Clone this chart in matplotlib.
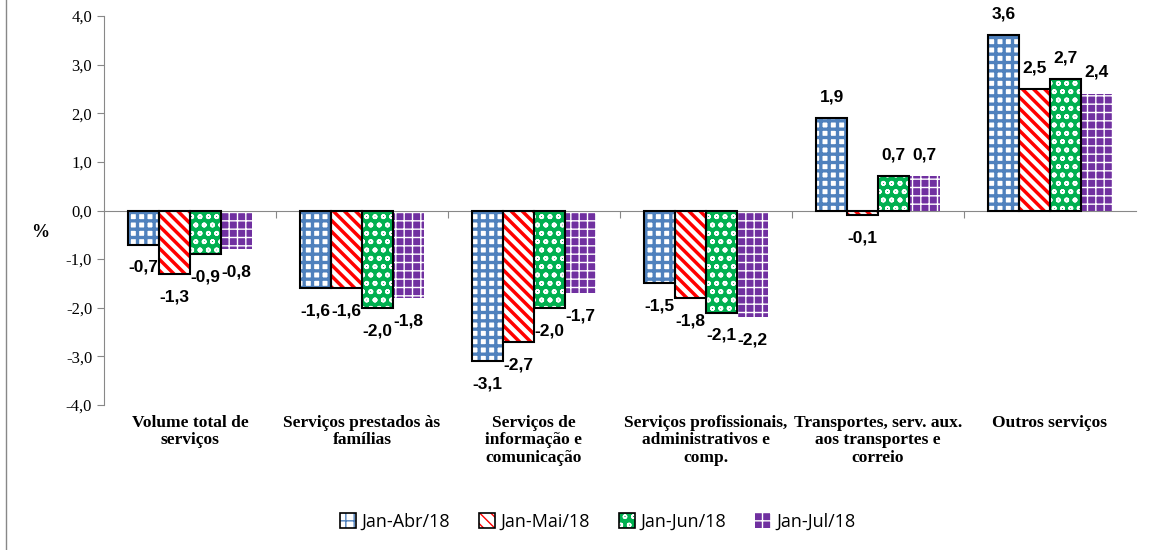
import matplotlib.pyplot as plt
import matplotlib.patches as mpatches
from matplotlib.lines import Line2D
import numpy as np

# Data
categorias = ["Volume total de\nserviços", "Serviços prestados às\nfamílias",
              "Serviços de\ninformação e\ncomunicação",
              "Serviços profissionais,\nadministrativos e\ncomp.",
              "Transportes, serv. aux.\naos transportes e\ncorreio",
              "Outros serviços"]
series = ["Jan-Abr/18", "Jan-Mai/18", "Jan-Jun/18", "Jan-Jul/18"]
jan_abr = [-0.7, -1.6, -3.1, -1.5, 1.9, 3.6]
jan_mai = [-1.3, -1.6, -2.7, -1.8, -0.1, 2.5]
jan_jun = [-0.9, -2.0, -2.0, -2.1, 0.7, 2.7]
jan_jul = [-0.8, -1.8, -1.7, -2.2, 0.7, 2.4]
valores = [jan_abr, jan_mai, jan_jun, jan_jul]

# styles: (face, hatch colour, hatch, hatch width, outline)
estilos = [("white", "#4F81BD", "++", 2.4, "black"),
           ("white", "#FF0000", "\\\\\\", 2.5, "black"),
           ("#00B050", "white", "oo", 1.2, "black"),
           ("#7030A0", "white", "++", 1.0, "none")]

fig = plt.figure(figsize=(11.58, 5.5), dpi=100)
ax = fig.add_axes([0.0898, 0.2636, 0.8912, 0.7073])

x = np.arange(len(categorias))
w = 0.18
handles = []
for i, (vals, (fc, hc, h, hw, ec)) in enumerate(zip(valores, estilos)):
    pos = x + (i - 1.5) * w
    with plt.rc_context({'hatch.linewidth': hw}):
        ax.bar(pos, vals, w, color=fc, edgecolor=hc, hatch=h, linewidth=0, zorder=2)
        hp = mpatches.Patch(facecolor=fc, edgecolor=hc, hatch=h, linewidth=0)
    if ec != "none":
        ax.bar(pos, vals, w, fill=False, edgecolor=ec, linewidth=1.5, zorder=3)
        handles.append((hp, mpatches.Patch(fill=False, edgecolor=ec, linewidth=1.2)))
    else:
        handles.append(hp)
    for p, v in zip(pos, vals):
        txt = f"{v:.1f}".replace('.', ',')
        off = 10 if v >= 0 else -11
        ax.annotate(txt, (p, v), xytext=(0, off), textcoords='offset points',
                    ha='center', va='bottom' if v >= 0 else 'top',
                    fontsize=12.5, fontweight='bold', family='Liberation Sans')

ax.set_ylim(-4, 4)
ax.set_xlim(-0.5, len(categorias) - 0.5)
ticks = np.arange(-4, 4.1, 1)
ax.set_yticks(ticks)
ax.set_yticklabels([f"{t:.1f}".replace('.', ',') for t in ticks],
                   family='Liberation Serif', fontsize=12)
ax.set_xticks(np.arange(0.5, len(categorias) - 0.5, 1))
ax.set_xticklabels([])
ax.spines['top'].set_visible(False)
ax.spines['right'].set_visible(False)
ax.spines['bottom'].set_position(('data', 0))
ax.spines['bottom'].set_color('#888888')
ax.spines['left'].set_color('#888888')
ax.tick_params(axis='y', colors='#888888', labelcolor='black', length=5)
ax.tick_params(axis='x', colors='#888888', length=5, direction='out')

for xi, c in zip(x, categorias):
    ax.text(xi, -4.2, c, ha='center', va='top', fontsize=12.5, fontweight='bold',
            family='Liberation Serif', linespacing=1.12)

fig.text(0.035, 0.578, "%", fontsize=13, fontweight='bold', family='Liberation Serif',
         ha='center', va='center')

# left border of the chart area
fig.add_artist(Line2D([0.005, 0.005], [0, 1], color='#888888', linewidth=1))

fig.legend(handles, series, loc='center', bbox_to_anchor=(0.516, 0.052), ncol=4,
           frameon=False, prop={'family': 'Open Sans', 'size': 13},
           handlelength=0.9, handleheight=0.9, columnspacing=1.6, handletextpad=0.3)

fig.savefig("out.png", dpi=100)
